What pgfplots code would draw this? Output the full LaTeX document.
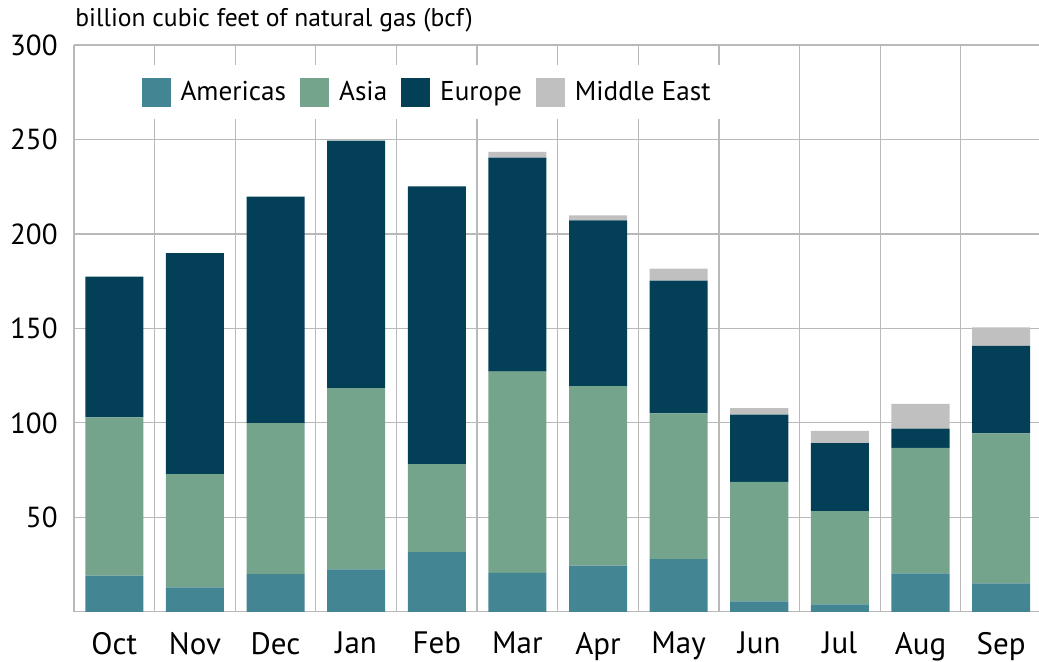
\documentclass[border=0pt]{standalone}
\usepackage{fontspec}
\setmainfont{PT Sans}
\usepackage{pgfplots}
\pgfplotsset{compat=1.18}
\definecolor{cAmer}{HTML}{448594}
\definecolor{cAsia}{HTML}{74A48B}
\definecolor{cEuro}{HTML}{034058}
\definecolor{cMide}{HTML}{C0C0C0}

\begin{document}
\begin{tikzpicture}
\useasboundingbox (-37pt,-25pt) rectangle (482.5pt,305.9pt);
\begin{axis}[
  at={(0,0)}, anchor=south west,
  width=482.5pt, height=283.4pt, scale only axis,
  ybar stacked, bar width=0.72,
  xmin=-0.5, xmax=11.47, ymin=0, ymax=300,
  axis line style={draw=none},
  xtick={0,...,11},
  xticklabels={Oct,Nov,Dec,Jan,Feb,Mar,Apr,May,Jun,Jul,Aug,Sep},
  minor xtick={-0.5,0.5,...,10.5},
  ytick={0,50,...,300},
  yticklabels={,50,100,150,200,250,300},
  major tick length=0, minor tick length=0,
  xminorgrids=true, ymajorgrids=true,
  grid style={gray!55, line width=0.6pt},
  minor grid style={gray!55, line width=0.6pt},
  xticklabel style={font=\fontsize{15.5}{17}\selectfont, inner sep=0pt, anchor=north, yshift=-10pt},
  yticklabel style={font=\fontsize{14.5}{16}\selectfont, inner sep=0pt, anchor=east, xshift=-8pt},
  legend columns=4,
  legend style={at={(0.053,0.917)}, anchor=west, draw=none, fill=white,
    inner xsep=8pt, inner ysep=6pt,
    font=\fontsize{13.6}{15}\selectfont,
    /tikz/every odd column/.append style={column sep=3pt},
    /tikz/every even column/.append style={column sep=5pt}},
  legend image code/.code={\fill[#1] (0pt,-7.25pt) rectangle (14.5pt,7.25pt);},
  clip=false,
]
\addplot[fill=cAmer, draw=none] coordinates {
  (0,19.2) (1,12.9) (2,19.9) (3,22.4) (4,31.6) (5,20.6)
  (6,24.5) (7,27.9) (8,5.5) (9,3.9) (10,20.3) (11,15.0)};
\addplot[fill=cAsia, draw=none] coordinates {
  (0,83.7) (1,60.0) (2,80.0) (3,96.0) (4,46.6) (5,106.5)
  (6,95.0) (7,77.1) (8,63.3) (9,49.4) (10,66.5) (11,79.4)};
\addplot[fill=cEuro, draw=none] coordinates {
  (0,74.5) (1,117.0) (2,119.8) (3,131.0) (4,147.0) (5,113.3)
  (6,87.7) (7,70.3) (8,35.5) (9,36.0) (10,10.1) (11,46.3)};
\addplot[fill=cMide, draw=none] coordinates {
  (0,0) (1,0) (2,0) (3,0) (4,0) (5,3.0)
  (6,2.6) (7,6.3) (8,3.5) (9,6.5) (10,13.1) (11,9.8)};
\legend{Americas,Asia,Europe,Middle East}
\node[anchor=base west, inner sep=0pt, font=\fontsize{12.8}{15}\selectfont]
  at (rel axis cs:0,1) [yshift=9pt, xshift=0.5pt] {billion cubic feet of natural gas (bcf)};
\end{axis}
\end{tikzpicture}
\end{document}
